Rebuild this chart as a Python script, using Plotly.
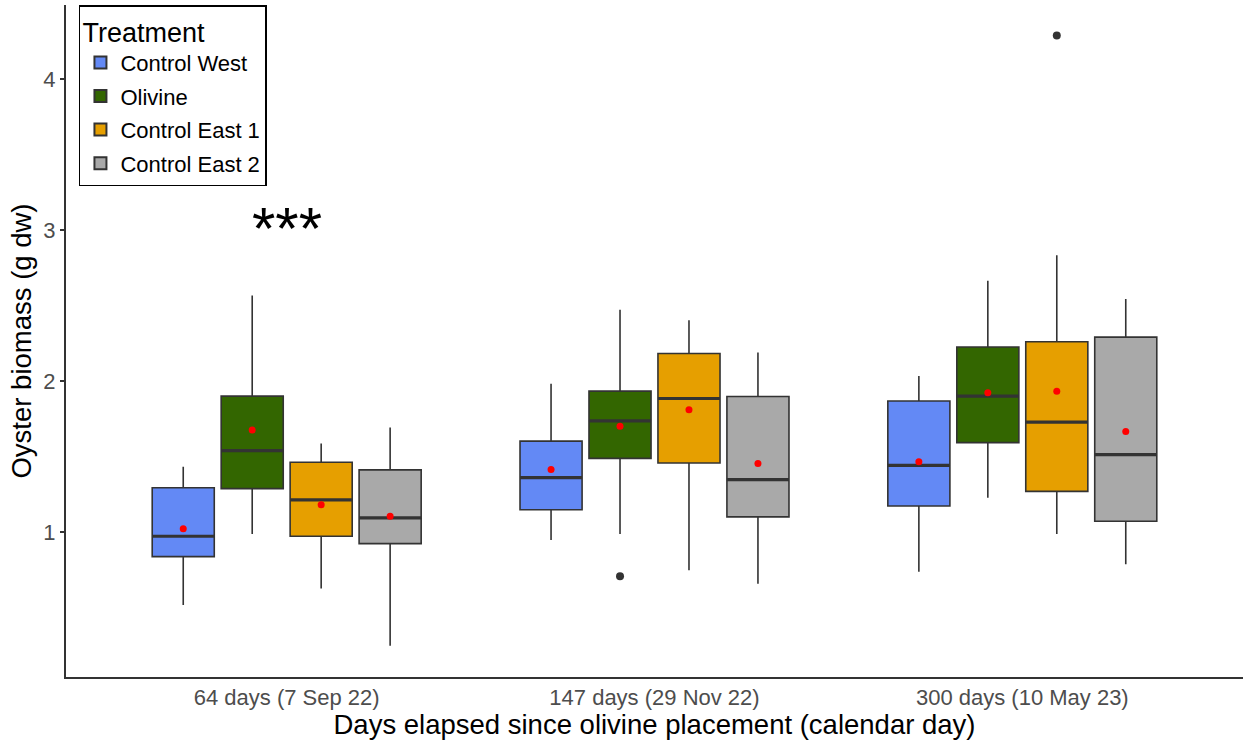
import plotly.graph_objects as go

# ---- data ----
groups = ["64 days (7 Sep 22)", "147 days (29 Nov 22)", "300 days (10 May 23)"]
treatments = ["Control West", "Olivine", "Control East 1", "Control East 2"]
colors = ["#6389F5", "#336600", "#E69F00", "#A9A9A9"]

lower_whisker = {
    "Control West":   [0.52, 0.95, 0.74],
    "Olivine":        [0.99, 0.99, 1.23],
    "Control East 1": [0.63, 0.75, 0.99],
    "Control East 2": [0.25, 0.66, 0.79],
}
q1 = {
    "Control West":   [0.84, 1.15, 1.175],
    "Olivine":        [1.29, 1.49, 1.594],
    "Control East 1": [0.975, 1.46, 1.272],
    "Control East 2": [0.926, 1.103, 1.074],
}
median = {
    "Control West":   [0.975, 1.363, 1.444],
    "Olivine":        [1.541, 1.738, 1.902],
    "Control East 1": [1.216, 1.886, 1.730],
    "Control East 2": [1.097, 1.350, 1.515],
}
q3 = {
    "Control West":   [1.296, 1.604, 1.870],
    "Olivine":        [1.902, 1.935, 2.227],
    "Control East 1": [1.464, 2.184, 2.262],
    "Control East 2": [1.414, 1.899, 2.292],
}
upper_whisker = {
    "Control West":   [1.434, 1.983, 2.035],
    "Olivine":        [2.567, 2.474, 2.665],
    "Control East 1": [1.589, 2.403, 2.833],
    "Control East 2": [1.695, 2.191, 2.544],
}
means = {
    "Control West":   [1.024, 1.416, 1.467],
    "Olivine":        [1.677, 1.703, 1.925],
    "Control East 1": [1.183, 1.811, 1.934],
    "Control East 2": [1.107, 1.456, 1.668],
}
# outliers: (treatment, group index, value)
outliers = [("Olivine", 1, 0.71), ("Control East 1", 2, 4.287)]
y_ticks = [1, 2, 3, 4]
signif_label = "***"

# ---- layout constants ----
dodge = 0.75
n = len(treatments)
slot = dodge / n
box_w = slot * 0.9
group_pos = [1, 2, 3]

def xpos(ti, gi):
    return group_pos[gi] + (ti - (n - 1) / 2) * slot

fig = go.Figure()

for ti, t in enumerate(treatments):
    xs = [xpos(ti, gi) for gi in range(len(groups))]
    fig.add_trace(go.Box(
        x=xs, q1=q1[t], median=median[t], q3=q3[t],
        lowerfence=lower_whisker[t], upperfence=upper_whisker[t],
        width=box_w, fillcolor=colors[ti],
        line=dict(color="#333333", width=1.6),
        whiskerwidth=0, name=t, legendgroup=t, showlegend=True,
        boxpoints=False,
    ))

# thicker median lines
for ti, t in enumerate(treatments):
    mx, my = [], []
    for gi in range(len(groups)):
        c = xpos(ti, gi)
        mx += [c - box_w / 2, c + box_w / 2, None]
        my += [median[t][gi], median[t][gi], None]
    fig.add_trace(go.Scatter(x=mx, y=my, mode="lines",
                             line=dict(color="#333333", width=3.2),
                             showlegend=False, hoverinfo="skip", legendgroup=t))

# outliers
ox = [xpos(treatments.index(t), gi) for t, gi, v in outliers]
oy = [v for t, gi, v in outliers]
fig.add_trace(go.Scatter(x=ox, y=oy, mode="markers",
                         marker=dict(color="#333333", size=8),
                         showlegend=False, hoverinfo="skip"))

# means
for ti, t in enumerate(treatments):
    fig.add_trace(go.Scatter(
        x=[xpos(ti, gi) for gi in range(len(groups))], y=means[t],
        mode="markers", marker=dict(color="red", size=7),
        showlegend=False, legendgroup=t))

fig.add_annotation(x=group_pos[0], y=3.09, text=signif_label, showarrow=False,
                   xref="x", yref="y", yanchor="middle", yshift=-12,
                   font=dict(size=60, color="black", family="Liberation Sans"))

fig.update_layout(
    width=1243, height=740,
    margin=dict(l=66, r=0, t=5, b=63, autoexpand=False),
    paper_bgcolor="white", plot_bgcolor="white",
    font=dict(family="Liberation Sans", color="black"),
    showlegend=True,
    legend=dict(
        title=dict(text="Treatment", font=dict(size=27, color="black")),
        font=dict(size=22, color="black"),
        x=0.011, y=1.0, xanchor="left", yanchor="top",
        bordercolor="black", borderwidth=1.5, bgcolor="white",
        tracegroupgap=2, itemsizing="constant",
    ),
    xaxis=dict(
        range=[0.4, 3.6], tickvals=group_pos, ticktext=groups,
        showline=True, linecolor="#333333", linewidth=2,
        showgrid=False, zeroline=False, ticks="",
        tickfont=dict(size=22, color="#4D4D4D"), automargin=False,
        title=dict(text="Days elapsed since olivine placement (calendar day)",
                   font=dict(size=27.5, color="black"), standoff=4),
    ),
    yaxis=dict(
        range=[0.044, 4.489], tickvals=y_ticks,
        showline=True, linecolor="#333333", linewidth=2,
        showgrid=False, zeroline=False, ticks="outside", ticklen=4,
        tickcolor="#333333", tickwidth=1.5, automargin=False,
        tickfont=dict(size=22, color="#4D4D4D"),
        title=dict(text="Oyster biomass (g dw)",
                   font=dict(size=27.5, color="black"), standoff=4),
    ),
)

fig.write_html("out.html")
